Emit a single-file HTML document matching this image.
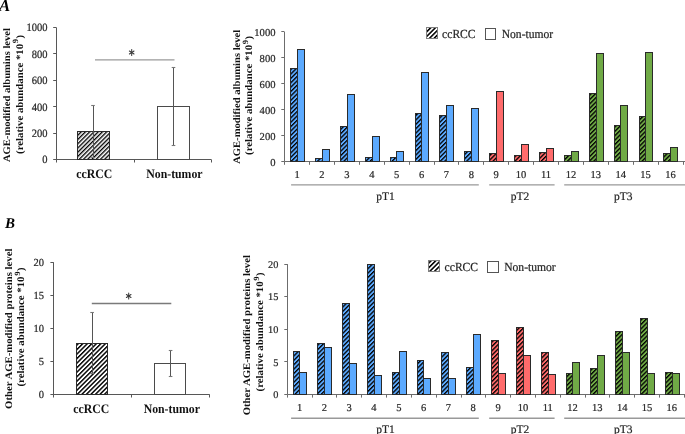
<!DOCTYPE html>
<html><head><meta charset="utf-8"><style>
html,body{margin:0;padding:0;background:#fff;width:685px;height:434px;overflow:hidden}
svg text{font-family:"Liberation Serif",serif;text-rendering:geometricPrecision}
svg text[font-weight="normal"]{stroke:#333;stroke-width:0.22px;stroke-linejoin:round}
</style></head><body>
<svg width="685" height="434" viewBox="0 0 685 434" style="display:block;filter:blur(0.3px);font-family:'Liberation Serif',serif"><defs>
<pattern id="hpL" width="8" height="3.0" patternUnits="userSpaceOnUse" patternTransform="rotate(-45)"><rect width="8" height="1.35" fill="#000"/></pattern>
<pattern id="hpLeg" width="8" height="3.3" patternUnits="userSpaceOnUse" patternTransform="rotate(-45)"><rect width="8" height="1.55" fill="#000"/></pattern>
<pattern id="hpL2" width="8" height="3.2" patternUnits="userSpaceOnUse" patternTransform="rotate(-45)"><rect width="8" height="1.45" fill="#000"/></pattern>
<pattern id="hpK" width="8" height="3.1" patternUnits="userSpaceOnUse" patternTransform="rotate(-45)"><rect width="8" height="1.3" fill="#000"/></pattern>
</defs><text x="-1.00" y="11.10" font-size="16.8" text-anchor="start" font-weight="bold" font-style="italic" fill="#000" >A</text>
<text x="5.00" y="227.70" font-size="15" text-anchor="start" font-weight="bold" font-style="italic" fill="#000" >B</text>
<line x1="56.50" y1="27.40" x2="56.50" y2="162.50" stroke="#575757" stroke-width="1"/>
<line x1="53.20" y1="159.50" x2="56.20" y2="159.50" stroke="#575757" stroke-width="1"/>
<text transform="translate(47.50,163.40) scale(1,1.07)" font-size="10.5" text-anchor="end" font-weight="normal" font-style="normal" fill="#222" >0</text>
<line x1="53.20" y1="133.50" x2="56.20" y2="133.50" stroke="#575757" stroke-width="1"/>
<text transform="translate(47.50,136.98) scale(1,1.07)" font-size="10.5" text-anchor="end" font-weight="normal" font-style="normal" fill="#222" >200</text>
<line x1="53.20" y1="106.50" x2="56.20" y2="106.50" stroke="#575757" stroke-width="1"/>
<text transform="translate(47.50,110.56) scale(1,1.07)" font-size="10.5" text-anchor="end" font-weight="normal" font-style="normal" fill="#222" >400</text>
<line x1="53.20" y1="80.50" x2="56.20" y2="80.50" stroke="#575757" stroke-width="1"/>
<text transform="translate(47.50,84.14) scale(1,1.07)" font-size="10.5" text-anchor="end" font-weight="normal" font-style="normal" fill="#222" >600</text>
<line x1="53.20" y1="53.50" x2="56.20" y2="53.50" stroke="#575757" stroke-width="1"/>
<text transform="translate(47.50,57.72) scale(1,1.07)" font-size="10.5" text-anchor="end" font-weight="normal" font-style="normal" fill="#222" >800</text>
<line x1="53.20" y1="27.50" x2="56.20" y2="27.50" stroke="#575757" stroke-width="1"/>
<text transform="translate(47.50,31.30) scale(1,1.07)" font-size="10.5" text-anchor="end" font-weight="normal" font-style="normal" fill="#222" >1000</text>
<line x1="56.20" y1="159.50" x2="211.30" y2="159.50" stroke="#575757" stroke-width="1"/>
<line x1="134.50" y1="159.50" x2="134.50" y2="162.50" stroke="#575757" stroke-width="1"/>
<line x1="211.50" y1="159.50" x2="211.50" y2="162.50" stroke="#575757" stroke-width="1"/>
<rect x="77.50" y="131.50" width="32.00" height="28.00" fill="#fff" stroke="none" stroke-width="0"/>
<rect x="77.50" y="131.50" width="32.00" height="28.00" fill="url(#hpL)" stroke="none" stroke-width="0"/>
<rect x="77.50" y="131.50" width="32.00" height="28.00" fill="none" stroke="#2a2a2a" stroke-width="1"/>
<rect x="157.50" y="106.50" width="32.00" height="53.00" fill="#fff" stroke="#4a4a4a" stroke-width="1"/>
<line x1="93.50" y1="105.80" x2="93.50" y2="157.50" stroke="#555" stroke-width="1"/>
<line x1="91.20" y1="105.50" x2="94.80" y2="105.50" stroke="#777" stroke-width="1.1"/>
<line x1="91.20" y1="157.50" x2="94.80" y2="157.50" stroke="#777" stroke-width="1.1"/>
<line x1="173.50" y1="67.80" x2="173.50" y2="145.40" stroke="#555" stroke-width="1"/>
<line x1="171.70" y1="67.50" x2="175.30" y2="67.50" stroke="#777" stroke-width="1.1"/>
<line x1="171.70" y1="145.50" x2="175.30" y2="145.50" stroke="#777" stroke-width="1.1"/>
<line x1="95.00" y1="59.80" x2="174.50" y2="59.80" stroke="#9a9a9a" stroke-width="1.3"/>
<g stroke="#3a3a3a" stroke-width="1.05" stroke-linecap="round"><line x1="131.70" y1="49.50" x2="131.70" y2="55.50"/><line x1="129.40" y1="51.00" x2="134.00" y2="54.00"/><line x1="129.40" y1="54.00" x2="134.00" y2="51.00"/></g>
<text transform="translate(94.25,177.60) scale(1,1.1)" font-size="11.8" text-anchor="middle" font-weight="bold" font-style="normal" fill="#111" >ccRCC</text>
<text transform="translate(174.40,177.60) scale(1,1.1)" font-size="11.8" text-anchor="middle" font-weight="bold" font-style="normal" fill="#111" >Non-tumor</text>
<text transform="translate(10.10,95.05) rotate(-90) scale(1.07,1)" font-size="9.907" font-weight="bold" text-anchor="middle" fill="#111">AGE-modified albumins level</text>
<text transform="translate(22.60,94.35) rotate(-90) scale(1.07,1)" font-size="10.093" font-weight="bold" text-anchor="middle" fill="#111">(relative abundance *10<tspan dy="-4.2" dx="0.6" font-size="8.04">9</tspan><tspan dy="4.2" dx="0.5">)</tspan></text>
<line x1="53.50" y1="262.20" x2="53.50" y2="397.50" stroke="#575757" stroke-width="1"/>
<line x1="50.40" y1="394.50" x2="53.40" y2="394.50" stroke="#575757" stroke-width="1"/>
<text transform="translate(44.10,398.00) scale(1,1.03)" font-size="10.5" text-anchor="end" font-weight="normal" font-style="normal" fill="#222" >0</text>
<line x1="50.40" y1="361.50" x2="53.40" y2="361.50" stroke="#575757" stroke-width="1"/>
<text transform="translate(44.10,364.93) scale(1,1.03)" font-size="10.5" text-anchor="end" font-weight="normal" font-style="normal" fill="#222" >5</text>
<line x1="50.40" y1="328.50" x2="53.40" y2="328.50" stroke="#575757" stroke-width="1"/>
<text transform="translate(44.10,331.85) scale(1,1.03)" font-size="10.5" text-anchor="end" font-weight="normal" font-style="normal" fill="#222" >10</text>
<line x1="50.40" y1="295.50" x2="53.40" y2="295.50" stroke="#575757" stroke-width="1"/>
<text transform="translate(44.10,298.77) scale(1,1.03)" font-size="10.5" text-anchor="end" font-weight="normal" font-style="normal" fill="#222" >15</text>
<line x1="50.40" y1="262.50" x2="53.40" y2="262.50" stroke="#575757" stroke-width="1"/>
<text transform="translate(44.10,265.70) scale(1,1.03)" font-size="10.5" text-anchor="end" font-weight="normal" font-style="normal" fill="#222" >20</text>
<line x1="53.40" y1="394.50" x2="209.70" y2="394.50" stroke="#575757" stroke-width="1"/>
<line x1="131.50" y1="394.50" x2="131.50" y2="397.50" stroke="#575757" stroke-width="1"/>
<line x1="209.50" y1="394.50" x2="209.50" y2="397.50" stroke="#575757" stroke-width="1"/>
<rect x="76.50" y="343.50" width="31.00" height="51.00" fill="#fff" stroke="none" stroke-width="0"/>
<rect x="76.50" y="343.50" width="31.00" height="51.00" fill="url(#hpL2)" stroke="none" stroke-width="0"/>
<rect x="76.50" y="343.50" width="31.00" height="51.00" fill="none" stroke="#2a2a2a" stroke-width="1"/>
<rect x="154.50" y="363.50" width="31.00" height="31.00" fill="#fff" stroke="#4a4a4a" stroke-width="1"/>
<line x1="92.50" y1="312.50" x2="92.50" y2="373.90" stroke="#555" stroke-width="1"/>
<line x1="90.30" y1="312.50" x2="93.90" y2="312.50" stroke="#777" stroke-width="1.1"/>
<line x1="90.30" y1="373.50" x2="93.90" y2="373.50" stroke="#777" stroke-width="1.1"/>
<line x1="170.50" y1="350.00" x2="170.50" y2="376.50" stroke="#555" stroke-width="1"/>
<line x1="168.80" y1="350.50" x2="172.40" y2="350.50" stroke="#777" stroke-width="1.1"/>
<line x1="168.80" y1="376.50" x2="172.40" y2="376.50" stroke="#777" stroke-width="1.1"/>
<line x1="91.80" y1="303.50" x2="171.30" y2="303.50" stroke="#7a7a7a" stroke-width="1.3"/>
<g stroke="#3a3a3a" stroke-width="1.05" stroke-linecap="round"><line x1="128.70" y1="293.00" x2="128.70" y2="299.00"/><line x1="126.40" y1="294.50" x2="131.00" y2="297.50"/><line x1="126.40" y1="297.50" x2="131.00" y2="294.50"/></g>
<text transform="translate(91.20,412.80) scale(1,1.1)" font-size="11.8" text-anchor="middle" font-weight="bold" font-style="normal" fill="#111" >ccRCC</text>
<text transform="translate(171.80,412.80) scale(1,1.1)" font-size="11.8" text-anchor="middle" font-weight="bold" font-style="normal" fill="#111" >Non-tumor</text>
<text transform="translate(11.60,328.75) rotate(-90) scale(1.07,1)" font-size="10.047" font-weight="bold" text-anchor="middle" fill="#111">Other AGE-modified proteins level</text>
<text transform="translate(24.40,327.00) rotate(-90) scale(1.07,1)" font-size="10.093" font-weight="bold" text-anchor="middle" fill="#111">(relative abundance *10<tspan dy="-4.2" dx="0.6" font-size="8.04">9</tspan><tspan dy="4.2" dx="0.5">)</tspan></text>
<line x1="284.50" y1="31.70" x2="284.50" y2="161.60" stroke="#6c6c6c" stroke-width="1"/>
<line x1="281.30" y1="161.50" x2="284.30" y2="161.50" stroke="#6c6c6c" stroke-width="1"/>
<text x="275.50" y="165.90" font-size="10.6" text-anchor="end" font-weight="normal" font-style="normal" fill="#222" >0</text>
<line x1="281.30" y1="135.50" x2="284.30" y2="135.50" stroke="#6c6c6c" stroke-width="1"/>
<text x="275.50" y="139.92" font-size="10.6" text-anchor="end" font-weight="normal" font-style="normal" fill="#222" >200</text>
<line x1="281.30" y1="109.50" x2="284.30" y2="109.50" stroke="#6c6c6c" stroke-width="1"/>
<text x="275.50" y="113.94" font-size="10.6" text-anchor="end" font-weight="normal" font-style="normal" fill="#222" >400</text>
<line x1="281.30" y1="83.50" x2="284.30" y2="83.50" stroke="#6c6c6c" stroke-width="1"/>
<text x="275.50" y="87.96" font-size="10.6" text-anchor="end" font-weight="normal" font-style="normal" fill="#222" >600</text>
<line x1="281.30" y1="57.50" x2="284.30" y2="57.50" stroke="#6c6c6c" stroke-width="1"/>
<text x="275.50" y="61.98" font-size="10.6" text-anchor="end" font-weight="normal" font-style="normal" fill="#222" >800</text>
<line x1="281.30" y1="31.50" x2="284.30" y2="31.50" stroke="#6c6c6c" stroke-width="1"/>
<text x="275.50" y="36.00" font-size="10.6" text-anchor="end" font-weight="normal" font-style="normal" fill="#222" >1000</text>
<line x1="284.30" y1="161.50" x2="685.00" y2="161.50" stroke="#6c6c6c" stroke-width="1"/>
<line x1="284.50" y1="161.60" x2="284.50" y2="164.80" stroke="#6c6c6c" stroke-width="1"/>
<line x1="309.50" y1="161.60" x2="309.50" y2="164.80" stroke="#6c6c6c" stroke-width="1"/>
<line x1="334.50" y1="161.60" x2="334.50" y2="164.80" stroke="#6c6c6c" stroke-width="1"/>
<line x1="359.50" y1="161.60" x2="359.50" y2="164.80" stroke="#6c6c6c" stroke-width="1"/>
<line x1="384.50" y1="161.60" x2="384.50" y2="164.80" stroke="#6c6c6c" stroke-width="1"/>
<line x1="409.50" y1="161.60" x2="409.50" y2="164.80" stroke="#6c6c6c" stroke-width="1"/>
<line x1="434.50" y1="161.60" x2="434.50" y2="164.80" stroke="#6c6c6c" stroke-width="1"/>
<line x1="458.50" y1="161.60" x2="458.50" y2="164.80" stroke="#6c6c6c" stroke-width="1"/>
<line x1="483.50" y1="161.60" x2="483.50" y2="164.80" stroke="#6c6c6c" stroke-width="1"/>
<line x1="508.50" y1="161.60" x2="508.50" y2="164.80" stroke="#6c6c6c" stroke-width="1"/>
<line x1="533.50" y1="161.60" x2="533.50" y2="164.80" stroke="#6c6c6c" stroke-width="1"/>
<line x1="558.50" y1="161.60" x2="558.50" y2="164.80" stroke="#6c6c6c" stroke-width="1"/>
<line x1="583.50" y1="161.60" x2="583.50" y2="164.80" stroke="#6c6c6c" stroke-width="1"/>
<line x1="608.50" y1="161.60" x2="608.50" y2="164.80" stroke="#6c6c6c" stroke-width="1"/>
<line x1="633.50" y1="161.60" x2="633.50" y2="164.80" stroke="#6c6c6c" stroke-width="1"/>
<line x1="658.50" y1="161.60" x2="658.50" y2="164.80" stroke="#6c6c6c" stroke-width="1"/>
<line x1="683.50" y1="161.60" x2="683.50" y2="164.80" stroke="#6c6c6c" stroke-width="1"/>
<rect x="290.50" y="68.50" width="7.00" height="93.00" fill="#5CAAFF" stroke="none" stroke-width="0"/>
<rect x="290.50" y="68.50" width="7.00" height="93.00" fill="url(#hpK)" stroke="none" stroke-width="0"/>
<rect x="290.50" y="68.50" width="7.00" height="93.00" fill="none" stroke="#2a2a2a" stroke-width="1"/>
<rect x="297.50" y="49.50" width="7.00" height="112.00" fill="#5CAAFF" stroke="#2a2a2a" stroke-width="1"/>
<text x="297.10" y="178.30" font-size="10.5" text-anchor="middle" font-weight="normal" font-style="normal" fill="#222" >1</text>
<rect x="315.50" y="158.50" width="7.00" height="3.00" fill="#5CAAFF" stroke="none" stroke-width="0"/>
<rect x="315.50" y="158.50" width="7.00" height="3.00" fill="url(#hpK)" stroke="none" stroke-width="0"/>
<rect x="315.50" y="158.50" width="7.00" height="3.00" fill="none" stroke="#2a2a2a" stroke-width="1"/>
<rect x="322.50" y="149.50" width="7.00" height="12.00" fill="#5CAAFF" stroke="#2a2a2a" stroke-width="1"/>
<text x="321.99" y="178.30" font-size="10.5" text-anchor="middle" font-weight="normal" font-style="normal" fill="#222" >2</text>
<rect x="340.50" y="126.50" width="7.00" height="35.00" fill="#5CAAFF" stroke="none" stroke-width="0"/>
<rect x="340.50" y="126.50" width="7.00" height="35.00" fill="url(#hpK)" stroke="none" stroke-width="0"/>
<rect x="340.50" y="126.50" width="7.00" height="35.00" fill="none" stroke="#2a2a2a" stroke-width="1"/>
<rect x="347.50" y="94.50" width="7.00" height="67.00" fill="#5CAAFF" stroke="#2a2a2a" stroke-width="1"/>
<text x="346.88" y="178.30" font-size="10.5" text-anchor="middle" font-weight="normal" font-style="normal" fill="#222" >3</text>
<rect x="365.50" y="157.50" width="7.00" height="4.00" fill="#5CAAFF" stroke="none" stroke-width="0"/>
<rect x="365.50" y="157.50" width="7.00" height="4.00" fill="url(#hpK)" stroke="none" stroke-width="0"/>
<rect x="365.50" y="157.50" width="7.00" height="4.00" fill="none" stroke="#2a2a2a" stroke-width="1"/>
<rect x="372.50" y="136.50" width="7.00" height="25.00" fill="#5CAAFF" stroke="#2a2a2a" stroke-width="1"/>
<text x="371.77" y="178.30" font-size="10.5" text-anchor="middle" font-weight="normal" font-style="normal" fill="#222" >4</text>
<rect x="390.50" y="157.50" width="6.00" height="4.00" fill="#5CAAFF" stroke="none" stroke-width="0"/>
<rect x="390.50" y="157.50" width="6.00" height="4.00" fill="url(#hpK)" stroke="none" stroke-width="0"/>
<rect x="390.50" y="157.50" width="6.00" height="4.00" fill="none" stroke="#2a2a2a" stroke-width="1"/>
<rect x="396.50" y="151.50" width="7.00" height="10.00" fill="#5CAAFF" stroke="#2a2a2a" stroke-width="1"/>
<text x="396.66" y="178.30" font-size="10.5" text-anchor="middle" font-weight="normal" font-style="normal" fill="#222" >5</text>
<rect x="415.50" y="113.50" width="6.00" height="48.00" fill="#5CAAFF" stroke="none" stroke-width="0"/>
<rect x="415.50" y="113.50" width="6.00" height="48.00" fill="url(#hpK)" stroke="none" stroke-width="0"/>
<rect x="415.50" y="113.50" width="6.00" height="48.00" fill="none" stroke="#2a2a2a" stroke-width="1"/>
<rect x="421.50" y="72.50" width="7.00" height="89.00" fill="#5CAAFF" stroke="#2a2a2a" stroke-width="1"/>
<text x="421.55" y="178.30" font-size="10.5" text-anchor="middle" font-weight="normal" font-style="normal" fill="#222" >6</text>
<rect x="439.50" y="115.50" width="7.00" height="46.00" fill="#5CAAFF" stroke="none" stroke-width="0"/>
<rect x="439.50" y="115.50" width="7.00" height="46.00" fill="url(#hpK)" stroke="none" stroke-width="0"/>
<rect x="439.50" y="115.50" width="7.00" height="46.00" fill="none" stroke="#2a2a2a" stroke-width="1"/>
<rect x="446.50" y="105.50" width="7.00" height="56.00" fill="#5CAAFF" stroke="#2a2a2a" stroke-width="1"/>
<text x="446.44" y="178.30" font-size="10.5" text-anchor="middle" font-weight="normal" font-style="normal" fill="#222" >7</text>
<rect x="464.50" y="151.50" width="7.00" height="10.00" fill="#5CAAFF" stroke="none" stroke-width="0"/>
<rect x="464.50" y="151.50" width="7.00" height="10.00" fill="url(#hpK)" stroke="none" stroke-width="0"/>
<rect x="464.50" y="151.50" width="7.00" height="10.00" fill="none" stroke="#2a2a2a" stroke-width="1"/>
<rect x="471.50" y="108.50" width="7.00" height="53.00" fill="#5CAAFF" stroke="#2a2a2a" stroke-width="1"/>
<text x="471.33" y="178.30" font-size="10.5" text-anchor="middle" font-weight="normal" font-style="normal" fill="#222" >8</text>
<rect x="489.50" y="153.50" width="7.00" height="8.00" fill="#FF6B6B" stroke="none" stroke-width="0"/>
<rect x="489.50" y="153.50" width="7.00" height="8.00" fill="url(#hpK)" stroke="none" stroke-width="0"/>
<rect x="489.50" y="153.50" width="7.00" height="8.00" fill="none" stroke="#2a2a2a" stroke-width="1"/>
<rect x="496.50" y="91.50" width="7.00" height="70.00" fill="#FF6B6B" stroke="#2a2a2a" stroke-width="1"/>
<text x="496.22" y="178.30" font-size="10.5" text-anchor="middle" font-weight="normal" font-style="normal" fill="#222" >9</text>
<rect x="514.50" y="155.50" width="7.00" height="6.00" fill="#FF6B6B" stroke="none" stroke-width="0"/>
<rect x="514.50" y="155.50" width="7.00" height="6.00" fill="url(#hpK)" stroke="none" stroke-width="0"/>
<rect x="514.50" y="155.50" width="7.00" height="6.00" fill="none" stroke="#2a2a2a" stroke-width="1"/>
<rect x="521.50" y="144.50" width="7.00" height="17.00" fill="#FF6B6B" stroke="#2a2a2a" stroke-width="1"/>
<text x="521.11" y="178.30" font-size="10.5" text-anchor="middle" font-weight="normal" font-style="normal" fill="#222" >10</text>
<rect x="539.50" y="152.50" width="7.00" height="9.00" fill="#FF6B6B" stroke="none" stroke-width="0"/>
<rect x="539.50" y="152.50" width="7.00" height="9.00" fill="url(#hpK)" stroke="none" stroke-width="0"/>
<rect x="539.50" y="152.50" width="7.00" height="9.00" fill="none" stroke="#2a2a2a" stroke-width="1"/>
<rect x="546.50" y="148.50" width="7.00" height="13.00" fill="#FF6B6B" stroke="#2a2a2a" stroke-width="1"/>
<text x="546.00" y="178.30" font-size="10.5" text-anchor="middle" font-weight="normal" font-style="normal" fill="#222" >11</text>
<rect x="564.50" y="155.50" width="7.00" height="6.00" fill="#70AA46" stroke="none" stroke-width="0"/>
<rect x="564.50" y="155.50" width="7.00" height="6.00" fill="url(#hpK)" stroke="none" stroke-width="0"/>
<rect x="564.50" y="155.50" width="7.00" height="6.00" fill="none" stroke="#2a2a2a" stroke-width="1"/>
<rect x="571.50" y="151.50" width="7.00" height="10.00" fill="#70AA46" stroke="#2a2a2a" stroke-width="1"/>
<text x="570.89" y="178.30" font-size="10.5" text-anchor="middle" font-weight="normal" font-style="normal" fill="#222" >12</text>
<rect x="589.50" y="93.50" width="7.00" height="68.00" fill="#70AA46" stroke="none" stroke-width="0"/>
<rect x="589.50" y="93.50" width="7.00" height="68.00" fill="url(#hpK)" stroke="none" stroke-width="0"/>
<rect x="589.50" y="93.50" width="7.00" height="68.00" fill="none" stroke="#2a2a2a" stroke-width="1"/>
<rect x="596.50" y="53.50" width="7.00" height="108.00" fill="#70AA46" stroke="#2a2a2a" stroke-width="1"/>
<text x="595.78" y="178.30" font-size="10.5" text-anchor="middle" font-weight="normal" font-style="normal" fill="#222" >13</text>
<rect x="614.50" y="125.50" width="6.00" height="36.00" fill="#70AA46" stroke="none" stroke-width="0"/>
<rect x="614.50" y="125.50" width="6.00" height="36.00" fill="url(#hpK)" stroke="none" stroke-width="0"/>
<rect x="614.50" y="125.50" width="6.00" height="36.00" fill="none" stroke="#2a2a2a" stroke-width="1"/>
<rect x="620.50" y="105.50" width="7.00" height="56.00" fill="#70AA46" stroke="#2a2a2a" stroke-width="1"/>
<text x="620.67" y="178.30" font-size="10.5" text-anchor="middle" font-weight="normal" font-style="normal" fill="#222" >14</text>
<rect x="639.50" y="116.50" width="6.00" height="45.00" fill="#70AA46" stroke="none" stroke-width="0"/>
<rect x="639.50" y="116.50" width="6.00" height="45.00" fill="url(#hpK)" stroke="none" stroke-width="0"/>
<rect x="639.50" y="116.50" width="6.00" height="45.00" fill="none" stroke="#2a2a2a" stroke-width="1"/>
<rect x="645.50" y="52.50" width="7.00" height="109.00" fill="#70AA46" stroke="#2a2a2a" stroke-width="1"/>
<text x="645.56" y="178.30" font-size="10.5" text-anchor="middle" font-weight="normal" font-style="normal" fill="#222" >15</text>
<rect x="663.50" y="153.50" width="7.00" height="8.00" fill="#70AA46" stroke="none" stroke-width="0"/>
<rect x="663.50" y="153.50" width="7.00" height="8.00" fill="url(#hpK)" stroke="none" stroke-width="0"/>
<rect x="663.50" y="153.50" width="7.00" height="8.00" fill="none" stroke="#2a2a2a" stroke-width="1"/>
<rect x="670.50" y="147.50" width="7.00" height="14.00" fill="#70AA46" stroke="#2a2a2a" stroke-width="1"/>
<text x="670.45" y="178.30" font-size="10.5" text-anchor="middle" font-weight="normal" font-style="normal" fill="#222" >16</text>
<line x1="291.10" y1="184.90" x2="478.80" y2="184.90" stroke="#999" stroke-width="1.4"/>
<line x1="489.20" y1="184.90" x2="554.60" y2="184.90" stroke="#999" stroke-width="1.4"/>
<line x1="564.20" y1="184.90" x2="686.00" y2="184.90" stroke="#999" stroke-width="1.4"/>
<text x="385.50" y="199.80" font-size="11.5" text-anchor="middle" font-weight="normal" font-style="normal" fill="#222" >pT1</text>
<text x="520.10" y="199.80" font-size="11.5" text-anchor="middle" font-weight="normal" font-style="normal" fill="#222" >pT2</text>
<text x="623.30" y="199.80" font-size="11.5" text-anchor="middle" font-weight="normal" font-style="normal" fill="#222" >pT3</text>
<rect x="426.50" y="27.50" width="11.00" height="11.00" fill="#fff" stroke="none" stroke-width="0"/>
<rect x="426.50" y="27.50" width="11.00" height="11.00" fill="url(#hpLeg)" stroke="none" stroke-width="0"/>
<rect x="426.50" y="27.50" width="11.00" height="11.00" fill="none" stroke="#808080" stroke-width="1"/>
<text transform="translate(442.10,37.60) scale(1,1.07)" font-size="11.6" text-anchor="start" font-weight="normal" font-style="normal" fill="#222" >ccRCC</text>
<rect x="485.50" y="28.50" width="10.00" height="11.00" fill="#fff" stroke="#555" stroke-width="1"/>
<text transform="translate(501.70,37.60) scale(1,1.07)" font-size="11.6" text-anchor="start" font-weight="normal" font-style="normal" fill="#222" >Non-tumor</text>
<text transform="translate(239.70,96.80) rotate(-90) scale(1.07,1)" font-size="9.907" font-weight="bold" text-anchor="middle" fill="#111">AGE-modified albumins level</text>
<text transform="translate(252.00,95.35) rotate(-90) scale(1.07,1)" font-size="10.093" font-weight="bold" text-anchor="middle" fill="#111">(relative abundance *10<tspan dy="-4.2" dx="0.6" font-size="8.04">9</tspan><tspan dy="4.2" dx="0.5">)</tspan></text>
<line x1="287.50" y1="264.10" x2="287.50" y2="394.40" stroke="#6c6c6c" stroke-width="1"/>
<line x1="284.30" y1="394.50" x2="287.30" y2="394.50" stroke="#6c6c6c" stroke-width="1"/>
<text x="278.30" y="398.10" font-size="10.3" text-anchor="end" font-weight="normal" font-style="normal" fill="#222" >0</text>
<line x1="284.30" y1="361.50" x2="287.30" y2="361.50" stroke="#6c6c6c" stroke-width="1"/>
<text x="278.30" y="365.52" font-size="10.3" text-anchor="end" font-weight="normal" font-style="normal" fill="#222" >5</text>
<line x1="284.30" y1="329.50" x2="287.30" y2="329.50" stroke="#6c6c6c" stroke-width="1"/>
<text x="278.30" y="332.95" font-size="10.3" text-anchor="end" font-weight="normal" font-style="normal" fill="#222" >10</text>
<line x1="284.30" y1="296.50" x2="287.30" y2="296.50" stroke="#6c6c6c" stroke-width="1"/>
<text x="278.30" y="300.38" font-size="10.3" text-anchor="end" font-weight="normal" font-style="normal" fill="#222" >15</text>
<line x1="284.30" y1="264.50" x2="287.30" y2="264.50" stroke="#6c6c6c" stroke-width="1"/>
<text x="278.30" y="267.80" font-size="10.3" text-anchor="end" font-weight="normal" font-style="normal" fill="#222" >20</text>
<line x1="287.30" y1="394.50" x2="685.00" y2="394.50" stroke="#6c6c6c" stroke-width="1"/>
<line x1="287.50" y1="394.40" x2="287.50" y2="397.60" stroke="#6c6c6c" stroke-width="1"/>
<line x1="312.50" y1="394.40" x2="312.50" y2="397.60" stroke="#6c6c6c" stroke-width="1"/>
<line x1="336.50" y1="394.40" x2="336.50" y2="397.60" stroke="#6c6c6c" stroke-width="1"/>
<line x1="361.50" y1="394.40" x2="361.50" y2="397.60" stroke="#6c6c6c" stroke-width="1"/>
<line x1="386.50" y1="394.40" x2="386.50" y2="397.60" stroke="#6c6c6c" stroke-width="1"/>
<line x1="411.50" y1="394.40" x2="411.50" y2="397.60" stroke="#6c6c6c" stroke-width="1"/>
<line x1="436.50" y1="394.40" x2="436.50" y2="397.60" stroke="#6c6c6c" stroke-width="1"/>
<line x1="461.50" y1="394.40" x2="461.50" y2="397.60" stroke="#6c6c6c" stroke-width="1"/>
<line x1="485.50" y1="394.40" x2="485.50" y2="397.60" stroke="#6c6c6c" stroke-width="1"/>
<line x1="510.50" y1="394.40" x2="510.50" y2="397.60" stroke="#6c6c6c" stroke-width="1"/>
<line x1="535.50" y1="394.40" x2="535.50" y2="397.60" stroke="#6c6c6c" stroke-width="1"/>
<line x1="560.50" y1="394.40" x2="560.50" y2="397.60" stroke="#6c6c6c" stroke-width="1"/>
<line x1="585.50" y1="394.40" x2="585.50" y2="397.60" stroke="#6c6c6c" stroke-width="1"/>
<line x1="609.50" y1="394.40" x2="609.50" y2="397.60" stroke="#6c6c6c" stroke-width="1"/>
<line x1="634.50" y1="394.40" x2="634.50" y2="397.60" stroke="#6c6c6c" stroke-width="1"/>
<line x1="659.50" y1="394.40" x2="659.50" y2="397.60" stroke="#6c6c6c" stroke-width="1"/>
<line x1="684.50" y1="394.40" x2="684.50" y2="397.60" stroke="#6c6c6c" stroke-width="1"/>
<rect x="293.50" y="351.50" width="6.00" height="43.00" fill="#5CAAFF" stroke="none" stroke-width="0"/>
<rect x="293.50" y="351.50" width="6.00" height="43.00" fill="url(#hpK)" stroke="none" stroke-width="0"/>
<rect x="293.50" y="351.50" width="6.00" height="43.00" fill="none" stroke="#2a2a2a" stroke-width="1"/>
<rect x="299.50" y="372.50" width="7.00" height="22.00" fill="#5CAAFF" stroke="#2a2a2a" stroke-width="1"/>
<text x="299.50" y="411.20" font-size="10.5" text-anchor="middle" font-weight="normal" font-style="normal" fill="#222" >1</text>
<rect x="317.50" y="343.50" width="7.00" height="51.00" fill="#5CAAFF" stroke="none" stroke-width="0"/>
<rect x="317.50" y="343.50" width="7.00" height="51.00" fill="url(#hpK)" stroke="none" stroke-width="0"/>
<rect x="317.50" y="343.50" width="7.00" height="51.00" fill="none" stroke="#2a2a2a" stroke-width="1"/>
<rect x="324.50" y="347.50" width="7.00" height="47.00" fill="#5CAAFF" stroke="#2a2a2a" stroke-width="1"/>
<text x="324.32" y="411.20" font-size="10.5" text-anchor="middle" font-weight="normal" font-style="normal" fill="#222" >2</text>
<rect x="342.50" y="303.50" width="7.00" height="91.00" fill="#5CAAFF" stroke="none" stroke-width="0"/>
<rect x="342.50" y="303.50" width="7.00" height="91.00" fill="url(#hpK)" stroke="none" stroke-width="0"/>
<rect x="342.50" y="303.50" width="7.00" height="91.00" fill="none" stroke="#2a2a2a" stroke-width="1"/>
<rect x="349.50" y="363.50" width="7.00" height="31.00" fill="#5CAAFF" stroke="#2a2a2a" stroke-width="1"/>
<text x="349.14" y="411.20" font-size="10.5" text-anchor="middle" font-weight="normal" font-style="normal" fill="#222" >3</text>
<rect x="367.50" y="264.50" width="7.00" height="130.00" fill="#5CAAFF" stroke="none" stroke-width="0"/>
<rect x="367.50" y="264.50" width="7.00" height="130.00" fill="url(#hpK)" stroke="none" stroke-width="0"/>
<rect x="367.50" y="264.50" width="7.00" height="130.00" fill="none" stroke="#2a2a2a" stroke-width="1"/>
<rect x="374.50" y="375.50" width="7.00" height="19.00" fill="#5CAAFF" stroke="#2a2a2a" stroke-width="1"/>
<text x="373.96" y="411.20" font-size="10.5" text-anchor="middle" font-weight="normal" font-style="normal" fill="#222" >4</text>
<rect x="392.50" y="372.50" width="7.00" height="22.00" fill="#5CAAFF" stroke="none" stroke-width="0"/>
<rect x="392.50" y="372.50" width="7.00" height="22.00" fill="url(#hpK)" stroke="none" stroke-width="0"/>
<rect x="392.50" y="372.50" width="7.00" height="22.00" fill="none" stroke="#2a2a2a" stroke-width="1"/>
<rect x="399.50" y="351.50" width="7.00" height="43.00" fill="#5CAAFF" stroke="#2a2a2a" stroke-width="1"/>
<text x="398.78" y="411.20" font-size="10.5" text-anchor="middle" font-weight="normal" font-style="normal" fill="#222" >5</text>
<rect x="417.50" y="360.50" width="6.00" height="34.00" fill="#5CAAFF" stroke="none" stroke-width="0"/>
<rect x="417.50" y="360.50" width="6.00" height="34.00" fill="url(#hpK)" stroke="none" stroke-width="0"/>
<rect x="417.50" y="360.50" width="6.00" height="34.00" fill="none" stroke="#2a2a2a" stroke-width="1"/>
<rect x="423.50" y="378.50" width="7.00" height="16.00" fill="#5CAAFF" stroke="#2a2a2a" stroke-width="1"/>
<text x="423.60" y="411.20" font-size="10.5" text-anchor="middle" font-weight="normal" font-style="normal" fill="#222" >6</text>
<rect x="441.50" y="352.50" width="7.00" height="42.00" fill="#5CAAFF" stroke="none" stroke-width="0"/>
<rect x="441.50" y="352.50" width="7.00" height="42.00" fill="url(#hpK)" stroke="none" stroke-width="0"/>
<rect x="441.50" y="352.50" width="7.00" height="42.00" fill="none" stroke="#2a2a2a" stroke-width="1"/>
<rect x="448.50" y="378.50" width="7.00" height="16.00" fill="#5CAAFF" stroke="#2a2a2a" stroke-width="1"/>
<text x="448.42" y="411.20" font-size="10.5" text-anchor="middle" font-weight="normal" font-style="normal" fill="#222" >7</text>
<rect x="466.50" y="367.50" width="7.00" height="27.00" fill="#5CAAFF" stroke="none" stroke-width="0"/>
<rect x="466.50" y="367.50" width="7.00" height="27.00" fill="url(#hpK)" stroke="none" stroke-width="0"/>
<rect x="466.50" y="367.50" width="7.00" height="27.00" fill="none" stroke="#2a2a2a" stroke-width="1"/>
<rect x="473.50" y="334.50" width="7.00" height="60.00" fill="#5CAAFF" stroke="#2a2a2a" stroke-width="1"/>
<text x="473.24" y="411.20" font-size="10.5" text-anchor="middle" font-weight="normal" font-style="normal" fill="#222" >8</text>
<rect x="491.50" y="340.50" width="7.00" height="54.00" fill="#FF6B6B" stroke="none" stroke-width="0"/>
<rect x="491.50" y="340.50" width="7.00" height="54.00" fill="url(#hpK)" stroke="none" stroke-width="0"/>
<rect x="491.50" y="340.50" width="7.00" height="54.00" fill="none" stroke="#2a2a2a" stroke-width="1"/>
<rect x="498.50" y="373.50" width="7.00" height="21.00" fill="#FF6B6B" stroke="#2a2a2a" stroke-width="1"/>
<text x="498.06" y="411.20" font-size="10.5" text-anchor="middle" font-weight="normal" font-style="normal" fill="#222" >9</text>
<rect x="516.50" y="327.50" width="7.00" height="67.00" fill="#FF6B6B" stroke="none" stroke-width="0"/>
<rect x="516.50" y="327.50" width="7.00" height="67.00" fill="url(#hpK)" stroke="none" stroke-width="0"/>
<rect x="516.50" y="327.50" width="7.00" height="67.00" fill="none" stroke="#2a2a2a" stroke-width="1"/>
<rect x="523.50" y="355.50" width="7.00" height="39.00" fill="#FF6B6B" stroke="#2a2a2a" stroke-width="1"/>
<text x="522.88" y="411.20" font-size="10.5" text-anchor="middle" font-weight="normal" font-style="normal" fill="#222" >10</text>
<rect x="541.50" y="352.50" width="7.00" height="42.00" fill="#FF6B6B" stroke="none" stroke-width="0"/>
<rect x="541.50" y="352.50" width="7.00" height="42.00" fill="url(#hpK)" stroke="none" stroke-width="0"/>
<rect x="541.50" y="352.50" width="7.00" height="42.00" fill="none" stroke="#2a2a2a" stroke-width="1"/>
<rect x="548.50" y="374.50" width="7.00" height="20.00" fill="#FF6B6B" stroke="#2a2a2a" stroke-width="1"/>
<text x="547.70" y="411.20" font-size="10.5" text-anchor="middle" font-weight="normal" font-style="normal" fill="#222" >11</text>
<rect x="566.50" y="373.50" width="6.00" height="21.00" fill="#70AA46" stroke="none" stroke-width="0"/>
<rect x="566.50" y="373.50" width="6.00" height="21.00" fill="url(#hpK)" stroke="none" stroke-width="0"/>
<rect x="566.50" y="373.50" width="6.00" height="21.00" fill="none" stroke="#2a2a2a" stroke-width="1"/>
<rect x="572.50" y="362.50" width="7.00" height="32.00" fill="#70AA46" stroke="#2a2a2a" stroke-width="1"/>
<text x="572.52" y="411.20" font-size="10.5" text-anchor="middle" font-weight="normal" font-style="normal" fill="#222" >12</text>
<rect x="590.50" y="368.50" width="7.00" height="26.00" fill="#70AA46" stroke="none" stroke-width="0"/>
<rect x="590.50" y="368.50" width="7.00" height="26.00" fill="url(#hpK)" stroke="none" stroke-width="0"/>
<rect x="590.50" y="368.50" width="7.00" height="26.00" fill="none" stroke="#2a2a2a" stroke-width="1"/>
<rect x="597.50" y="355.50" width="7.00" height="39.00" fill="#70AA46" stroke="#2a2a2a" stroke-width="1"/>
<text x="597.34" y="411.20" font-size="10.5" text-anchor="middle" font-weight="normal" font-style="normal" fill="#222" >13</text>
<rect x="615.50" y="331.50" width="7.00" height="63.00" fill="#70AA46" stroke="none" stroke-width="0"/>
<rect x="615.50" y="331.50" width="7.00" height="63.00" fill="url(#hpK)" stroke="none" stroke-width="0"/>
<rect x="615.50" y="331.50" width="7.00" height="63.00" fill="none" stroke="#2a2a2a" stroke-width="1"/>
<rect x="622.50" y="352.50" width="7.00" height="42.00" fill="#70AA46" stroke="#2a2a2a" stroke-width="1"/>
<text x="622.16" y="411.20" font-size="10.5" text-anchor="middle" font-weight="normal" font-style="normal" fill="#222" >14</text>
<rect x="640.50" y="318.50" width="7.00" height="76.00" fill="#70AA46" stroke="none" stroke-width="0"/>
<rect x="640.50" y="318.50" width="7.00" height="76.00" fill="url(#hpK)" stroke="none" stroke-width="0"/>
<rect x="640.50" y="318.50" width="7.00" height="76.00" fill="none" stroke="#2a2a2a" stroke-width="1"/>
<rect x="647.50" y="373.50" width="7.00" height="21.00" fill="#70AA46" stroke="#2a2a2a" stroke-width="1"/>
<text x="646.98" y="411.20" font-size="10.5" text-anchor="middle" font-weight="normal" font-style="normal" fill="#222" >15</text>
<rect x="665.50" y="372.50" width="7.00" height="22.00" fill="#70AA46" stroke="none" stroke-width="0"/>
<rect x="665.50" y="372.50" width="7.00" height="22.00" fill="url(#hpK)" stroke="none" stroke-width="0"/>
<rect x="665.50" y="372.50" width="7.00" height="22.00" fill="none" stroke="#2a2a2a" stroke-width="1"/>
<rect x="672.50" y="373.50" width="7.00" height="21.00" fill="#70AA46" stroke="#2a2a2a" stroke-width="1"/>
<text x="671.80" y="411.20" font-size="10.5" text-anchor="middle" font-weight="normal" font-style="normal" fill="#222" >16</text>
<line x1="291.10" y1="418.30" x2="478.80" y2="418.30" stroke="#999" stroke-width="1.4"/>
<line x1="489.20" y1="418.30" x2="554.60" y2="418.30" stroke="#999" stroke-width="1.4"/>
<line x1="564.20" y1="418.30" x2="686.00" y2="418.30" stroke="#999" stroke-width="1.4"/>
<text x="385.50" y="433.20" font-size="11.5" text-anchor="middle" font-weight="normal" font-style="normal" fill="#222" >pT1</text>
<text x="520.10" y="433.20" font-size="11.5" text-anchor="middle" font-weight="normal" font-style="normal" fill="#222" >pT2</text>
<text x="623.30" y="433.20" font-size="11.5" text-anchor="middle" font-weight="normal" font-style="normal" fill="#222" >pT3</text>
<rect x="428.50" y="260.50" width="11.00" height="11.00" fill="#fff" stroke="none" stroke-width="0"/>
<rect x="428.50" y="260.50" width="11.00" height="11.00" fill="url(#hpLeg)" stroke="none" stroke-width="0"/>
<rect x="428.50" y="260.50" width="11.00" height="11.00" fill="none" stroke="#808080" stroke-width="1"/>
<text transform="translate(444.60,270.50) scale(1,1.07)" font-size="11.6" text-anchor="start" font-weight="normal" font-style="normal" fill="#222" >ccRCC</text>
<rect x="487.50" y="261.50" width="11.00" height="11.00" fill="#fff" stroke="#555" stroke-width="1"/>
<text transform="translate(504.20,270.50) scale(1,1.07)" font-size="11.6" text-anchor="start" font-weight="normal" font-style="normal" fill="#222" >Non-tumor</text>
<text transform="translate(250.30,335.20) rotate(-90) scale(1.07,1)" font-size="10.047" font-weight="bold" text-anchor="middle" fill="#111">Other AGE-modified proteins level</text>
<text transform="translate(262.90,331.90) rotate(-90) scale(1.07,1)" font-size="10.093" font-weight="bold" text-anchor="middle" fill="#111">(relative abundance *10<tspan dy="-4.2" dx="0.6" font-size="8.04">9</tspan><tspan dy="4.2" dx="0.5">)</tspan></text></svg>
</body></html>
